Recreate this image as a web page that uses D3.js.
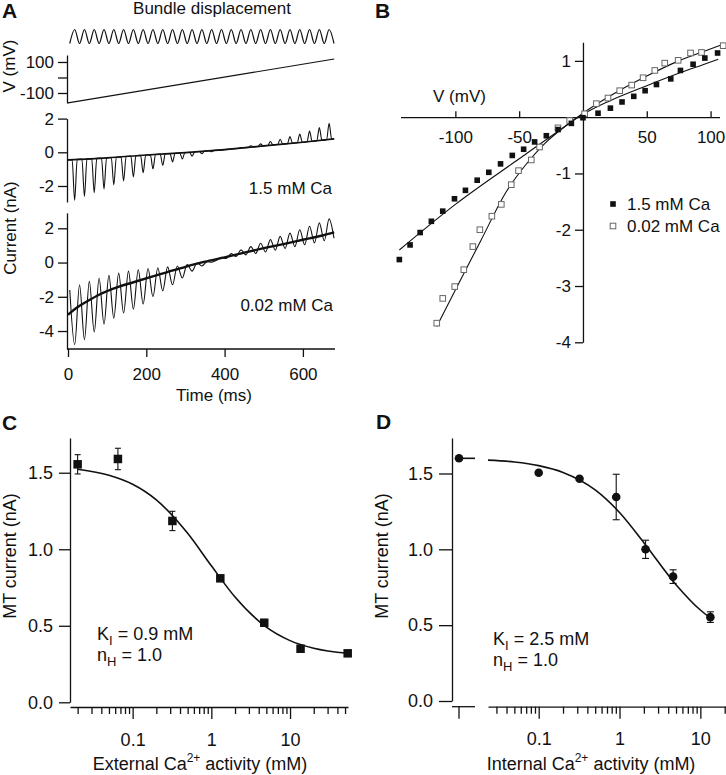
<!DOCTYPE html>
<html><head><meta charset="utf-8">
<script src="https://cdn.jsdelivr.net/npm/d3@7"></script>
<style>
body{margin:0;background:#fff;}
svg{display:block;font-family:"Liberation Sans",Arial,Helvetica,sans-serif;}
</style></head><body>
<svg id="chart" width="726" height="775"></svg>
<script>
// ================= DATA =================
// Panel A
const timeTicks = [0, 200, 400, 600];
const stimPeriodMs = 25;
const stimCycles = 27;
const firstTroughMs = 17;
const rampT = [0, 680];
const rampV = [-164, 119];
const highCaBaseT = [0, 100, 200, 300, 400, 500, 600, 680];
const highCaBaseI = [-0.45, -0.33, -0.16, -0.02, 0.16, 0.38, 0.6, 0.8];
// per-cycle deviation from baseline at each stimulus peak (1.5 mM Ca)
const highCaExtreme = [-2.42, -2.22, -2.03, -1.83, -1.63, -1.44, -1.24, -1.04, -0.85, -0.67, -0.5, -0.36, -0.24, -0.14, -0.07, -0.02, 0, 0.03, 0.08, 0.14, 0.22, 0.3, 0.4, 0.5, 0.62, 0.76, 0.95];
const lowCaSmoothT = [0, 25, 50, 82, 125, 167, 210, 252, 300, 350, 400, 450, 500, 550, 600, 650, 680];
const lowCaSmoothI = [-3.05, -2.6, -2.25, -1.85, -1.45, -1.15, -0.85, -0.57, -0.25, 0.05, 0.3, 0.58, 0.84, 1.08, 1.33, 1.58, 1.76];
// 0.02 mM Ca: current at each stimulus peak, and half a period earlier
const lowCaA = [-4.8, -4.5, -4.05, -3.6, -3.25, -2.95, -2.72, -2.42, -2.0, -1.65, -1.3, -0.9, -0.5, -0.2, 0.02, 0.3, 0.52, 0.74, 0.93, 1.13, 1.34, 1.53, 1.72, 1.92, 2.12, 2.32, 2.55];
const lowCaB = [-1.6, -1.3, -1.1, -0.92, -0.75, -0.62, -0.5, -0.42, -0.35, -0.3, -0.25, -0.2, -0.12, -0.03, 0.04, 0.14, 0.24, 0.36, 0.45, 0.53, 0.62, 0.72, 0.82, 0.93, 1.04, 1.15, 1.27, 1.42];

// Panel B
const ivHighV = [-143.9, -135.5, -127.6, -118.8, -109.9, -100.7, -92.1, -82.9, -73.8, -64.6, -55.4, -46.5, -37.9, -28.7, -19.5, -9.1, 0, 11.8, 21.5, 30.6, 39.8, 48.7, 57.6, 68.8, 76.4, 86.3, 95.5, 105.5];
const ivHighI = [-2.53, -2.27, -2.05, -1.85, -1.67, -1.45, -1.3, -1.12, -0.98, -0.83, -0.68, -0.57, -0.44, -0.33, -0.22, -0.11, -0.01, 0.07, 0.16, 0.27, 0.37, 0.47, 0.58, 0.68, 0.83, 0.94, 1.05, 1.14];
const ivLowV = [-114.6, -109.9, -100.5, -93.4, -86.3, -80.8, -71.4, -64, -56.2, -50.5, -40.5, -34, -19.6, -10.4, 1.3, 10.5, 19.6, 28.8, 38.2, 47.1, 56.3, 64.1, 74.6, 84.3, 92.9, 109.9];
const ivLowI = [-3.66, -3.22, -3.01, -2.71, -2.3, -2.0, -1.76, -1.55, -1.2, -0.95, -0.76, -0.53, -0.19, -0.06, 0.06, 0.24, 0.34, 0.47, 0.57, 0.7, 0.83, 0.96, 1.01, 1.14, 1.15, 1.27];
const fitHighV = [-143.9, -100, -50, -20, 0, 20, 50, 75, 100, 106];
const fitHighI = [-2.36, -1.55, -0.74, -0.26, 0.05, 0.28, 0.56, 0.78, 0.98, 1.03];
const fitLowV = [-114.6, -100, -80, -60, -45, -30, -15, 0, 15, 30, 50, 75, 95, 110.4];
const fitLowI = [-3.72, -3.07, -2.19, -1.32, -0.85, -0.47, -0.18, 0.07, 0.29, 0.49, 0.73, 1.0, 1.17, 1.3];
const vTicks = [-100, -50, 50, 100];
const iTicksB = [1, -1, -2, -3, -4];
const legendLabels = ["1.5 mM Ca", "0.02 mM Ca"];

// Panel C
const cConc = [0.02, 0.065, 0.32, 1.3, 4.7, 13.6, 54];
const cMean = [1.555, 1.59, 1.185, 0.81, 0.52, 0.35, 0.32];
const cErr = [0.063, 0.07, 0.063, 0.01, 0.02, 0.01, 0.01];
const cFitConc = [0.02, 0.05, 0.1, 0.2, 0.5, 1, 2, 5, 10, 20, 54];
const cFitI = [1.523, 1.484, 1.425, 1.323, 1.104, 0.892, 0.688, 0.491, 0.403, 0.353, 0.320];
const cMajor = [0.1, 1, 10];
const cMinor = [0.02,0.03,0.04,0.05,0.06,0.07,0.08,0.09,0.2,0.3,0.4,0.5,0.6,0.7,0.8,0.9,2,3,4,5,6,7,8,9,20,30,40,50];
const mtTicks = [0, 0.5, 1.0, 1.5];

// Panel D
const dZeroI = 1.6;
const dConc = [0.1, 0.32, 0.91, 2.1, 4.6, 13.3];
const dMean = [1.505, 1.465, 1.345, 1.0, 0.82, 0.553];
const dErr = [0, 0, 0.15, 0.06, 0.045, 0.035];
const dFitConc = [0.0236, 0.05, 0.1, 0.2, 0.5, 1, 2, 5, 10, 13.3];
const dFitI = [1.588, 1.576, 1.552, 1.507, 1.392, 1.243, 1.044, 0.767, 0.600, 0.548];
const dMajor = [0.1, 1, 10];
const dMinor = [0.03,0.04,0.05,0.06,0.07,0.08,0.09,0.2,0.3,0.4,0.5,0.6,0.7,0.8,0.9,2,3,4,5,6,7,8,9,20];

// ================= DRAWING =================
const svg = d3.select("#chart");
const INK = "#111";
const plain = d => String(d);   // hyphen-minus, no trailing zeros
function styleAxis(g, fs) {
  g.selectAll("path.domain").attr("stroke", INK).attr("stroke-width", 1.3);
  g.selectAll(".tick line").attr("stroke", INK).attr("stroke-width", 1.3);
  g.selectAll(".tick text").attr("font-size", fs).attr("fill", INK)
    .attr("font-family", '"Liberation Sans", Arial, sans-serif');
}
function letter(x, y, t) {
  svg.append("text").attr("x", x).attr("y", y).attr("font-size", 21)
    .attr("font-weight", "bold").attr("fill", INK).text(t);
}
function vtitle(cx, cy, fs, t) {
  svg.append("text").attr("transform", `translate(${cx},${cy}) rotate(-90)`)
    .attr("text-anchor", "middle").attr("font-size", fs).attr("fill", INK).text(t);
}

// ---------- Panel A ----------
letter(2, 18, "A");
svg.append("text").attr("x", 212).attr("y", 14).attr("text-anchor", "middle")
  .attr("font-size", 17).attr("fill", INK).text("Bundle displacement");

const xA = d3.scaleLinear([0, 682], [68, 335]);
const yV = d3.scaleLinear([-164.5, 145], [103, 55]);
const yI1 = d3.scaleLinear([-2.95, 2.0], [202, 118.6]);
const yI2 = d3.scaleLinear([-5.05, 2.9], [349, 212.9]);
const stimY = d3.scaleLinear([-1, 1], [43.5, 29.5]);

// stimulus sine
const stimPts = [];
for (let k = 0; k < stimCycles; k++) {
  const tk = firstTroughMs + k * stimPeriodMs;
  stimPts.push([tk - stimPeriodMs / 2, -1]);
  stimPts.push([tk, 1]);
}
stimPts.push([firstTroughMs + stimCycles * stimPeriodMs - stimPeriodMs / 2, -1]);
svg.append("path").datum(stimPts)
  .attr("d", d3.line().x(d => xA(d[0])).y(d => stimY(d[1])).curve(d3.curveCatmullRom))
  .attr("fill", "none").attr("stroke", INK).attr("stroke-width", 1.2);

// voltage ramp
svg.append("path").datum(d3.zip(rampT, rampV))
  .attr("d", d3.line().x(d => xA(d[0])).y(d => yV(d[1])))
  .attr("fill", "none").attr("stroke", INK).attr("stroke-width", 1.2);

const gV = svg.append("g").attr("transform", "translate(67,0)")
  .call(d3.axisLeft(yV).tickValues([-100, 0, 100]).tickFormat(d => d === 0 ? "" : plain(d))
    .tickSize(9).tickSizeOuter(0).tickPadding(4));
styleAxis(gV, 17);
vtitle(15, 66, 17, "V (mV)");

// 1.5 mM trace
const baseHigh = d3.scaleLinear(highCaBaseT, highCaBaseI);
const highPts = [[0, baseHigh(0)]];
highCaExtreme.forEach((dv, k) => {
  const tk = firstTroughMs + k * stimPeriodMs;
  const w = stimPeriodMs * 0.26;
  highPts.push([tk - w, baseHigh(tk - w)]);
  highPts.push([tk, baseHigh(tk) + dv]);
  highPts.push([tk + w, baseHigh(tk + w)]);
});
highPts.push([680, baseHigh(680)]);
svg.append("path").datum(highCaBaseT.map((t, i) => [t, highCaBaseI[i]]))
  .attr("d", d3.line().x(d => xA(d[0])).y(d => yI1(d[1])).curve(d3.curveMonotoneX))
  .attr("fill", "none").attr("stroke", INK).attr("stroke-width", 1.6);
svg.append("path").datum(highPts)
  .attr("d", d3.line().x(d => xA(d[0])).y(d => yI1(d[1])).curve(d3.curveMonotoneX))
  .attr("fill", "none").attr("stroke", INK).attr("stroke-width", 1.1);
const gI1 = svg.append("g").attr("transform", "translate(67,0)")
  .call(d3.axisLeft(yI1).tickValues([-2, 0, 2]).tickFormat(plain).tickSize(9).tickSizeOuter(0).tickPadding(4));
styleAxis(gI1, 17);
svg.append("text").attr("x", 332).attr("y", 194).attr("text-anchor", "end")
  .attr("font-size", 17).attr("fill", INK).text("1.5 mM Ca");

// 0.02 mM trace
const lowPts = [];
lowCaB.forEach((v, k) => {
  const tB = firstTroughMs + k * stimPeriodMs - stimPeriodMs / 2;
  lowPts.push([tB, v]);
  if (k < lowCaA.length) lowPts.push([firstTroughMs + k * stimPeriodMs, lowCaA[k]]);
});
svg.append("path").datum(lowPts)
  .attr("d", d3.line().x(d => xA(d[0])).y(d => yI2(d[1])).curve(d3.curveCatmullRom))
  .attr("fill", "none").attr("stroke", INK).attr("stroke-width", 1.1);
svg.append("path").datum(d3.zip(lowCaSmoothT, lowCaSmoothI))
  .attr("d", d3.line().x(d => xA(d[0])).y(d => yI2(d[1])).curve(d3.curveMonotoneX))
  .attr("fill", "none").attr("stroke", INK).attr("stroke-width", 2.4);
const gI2 = svg.append("g").attr("transform", "translate(67,0)")
  .call(d3.axisLeft(yI2).tickValues([-4, -2, 0, 2]).tickFormat(plain).tickSize(9).tickSizeOuter(0).tickPadding(4));
styleAxis(gI2, 17);
svg.append("text").attr("x", 333).attr("y", 311).attr("text-anchor", "end")
  .attr("font-size", 17).attr("fill", INK).text("0.02 mM Ca");
vtitle(16, 228, 17, "Current (nA)");

const gT = svg.append("g").attr("transform", "translate(0,349)")
  .call(d3.axisBottom(xA).tickValues(timeTicks).tickFormat(plain).tickSize(8).tickSizeOuter(0).tickPadding(11));
styleAxis(gT, 17);
gT.select("path.domain").attr("d", `M67,0H${xA(682)}`);
svg.append("text").attr("x", 214).attr("y", 401).attr("text-anchor", "middle")
  .attr("font-size", 17).attr("fill", INK).text("Time (ms)");

// ---------- Panel B ----------
letter(375, 18, "B");
const xB = d3.scaleLinear([-143, 107], [400.5, 719.5]);
const yB = d3.scaleLinear([-4, 1.33], [342.3, 42.3]);
const gBx = svg.append("g").attr("transform", `translate(0,${yB(0)})`)
  .call(d3.axisBottom(xB).tickValues(vTicks).tickFormat(plain).tickSize(-6).tickSizeOuter(0).tickPadding(14));
styleAxis(gBx, 17);
const gBy = svg.append("g").attr("transform", `translate(${xB(0)},0)`)
  .call(d3.axisLeft(yB).tickValues(iTicksB).tickFormat(plain).tickSize(8).tickSizeOuter(0).tickPadding(4));
styleAxis(gBy, 17);
svg.append("text").attr("x", 433).attr("y", 102).attr("font-size", 17).attr("fill", INK).text("V (mV)");

const lineB = d3.line().x(d => xB(d[0])).y(d => yB(d[1])).curve(d3.curveMonotoneX);
svg.append("path").datum(d3.zip(fitHighV, fitHighI)).attr("d", lineB)
  .attr("fill", "none").attr("stroke", INK).attr("stroke-width", 1.1);
svg.append("path").datum(d3.zip(fitLowV, fitLowI)).attr("d", lineB)
  .attr("fill", "none").attr("stroke", INK).attr("stroke-width", 1.1);
const sqB = 5.6;
svg.append("g").selectAll("rect").data(d3.zip(ivLowV, ivLowI)).join("rect")
  .attr("x", d => xB(d[0]) - sqB / 2).attr("y", d => yB(d[1]) - sqB / 2)
  .attr("width", sqB).attr("height", sqB).attr("fill", "#fff").attr("stroke", "#666").attr("stroke-width", 1);
svg.append("g").selectAll("rect").data(d3.zip(ivHighV, ivHighI)).join("rect")
  .attr("x", d => xB(d[0]) - sqB / 2).attr("y", d => yB(d[1]) - sqB / 2)
  .attr("width", sqB).attr("height", sqB).attr("fill", INK);
// legend
const lg = svg.append("g");
lg.selectAll("rect").data(legendLabels).join("rect")
  .attr("x", 613 - sqB / 2).attr("y", (d, i) => 204 + i * 22 - sqB / 2)
  .attr("width", sqB).attr("height", sqB)
  .attr("fill", (d, i) => i === 0 ? INK : "#fff").attr("stroke", (d, i) => i === 0 ? "none" : "#666");
lg.selectAll("text").data(legendLabels).join("text")
  .attr("x", 627).attr("y", (d, i) => 210 + i * 22).attr("font-size", 17).attr("fill", INK).text(d => d);

// ---------- Panel C ----------
letter(2, 430, "C");
const xC = d3.scaleLog([0.016, 54.5], [70, 348]);
const yC = d3.scaleLinear([0, 1.727], [702.3, 438]);
const gCy = svg.append("g").attr("transform", "translate(70,0)")
  .call(d3.axisLeft(yC).tickValues(mtTicks).tickFormat(d3.format(".1f")).tickSize(11).tickSizeOuter(0).tickPadding(6));
styleAxis(gCy, 18);
const gCxm = svg.append("g").attr("transform", "translate(0,707)")
  .call(d3.axisBottom(xC).tickValues(cMinor).tickFormat("").tickSize(7).tickSizeOuter(0));
styleAxis(gCxm, 18);
const gCxM = svg.append("g").attr("transform", "translate(0,707)")
  .call(d3.axisBottom(xC).tickValues(cMajor).tickFormat(plain).tickSize(12).tickSizeOuter(0).tickPadding(14));
styleAxis(gCxM, 18);
gCxM.select("path.domain").remove();
vtitle(16, 556, 18, "MT current (nA)");
const tC = svg.append("text").attr("x", 200).attr("y", 770).attr("text-anchor", "middle")
  .attr("font-size", 18).attr("fill", INK);
tC.append("tspan").text("External Ca");
tC.append("tspan").attr("font-size", 12).attr("dy", -8).text("2+");
tC.append("tspan").attr("dy", 8).text(" activity (mM)");

svg.append("path").datum(d3.zip(cFitConc, cFitI))
  .attr("d", d3.line().x(d => xC(d[0])).y(d => yC(d[1])).curve(d3.curveMonotoneX))
  .attr("fill", "none").attr("stroke", INK).attr("stroke-width", 1.6);
const cData = cConc.map((c, i) => ({ c, m: cMean[i], e: cErr[i] }));
const gCe = svg.append("g").attr("stroke", INK).attr("stroke-width", 1.1);
cData.filter(d => d.e > 0.015).forEach(d => {
  const x = xC(d.c);
  gCe.append("line").attr("x1", x).attr("x2", x).attr("y1", yC(d.m - d.e)).attr("y2", yC(d.m + d.e));
  gCe.append("line").attr("x1", x - 3).attr("x2", x + 3).attr("y1", yC(d.m - d.e)).attr("y2", yC(d.m - d.e));
  gCe.append("line").attr("x1", x - 3).attr("x2", x + 3).attr("y1", yC(d.m + d.e)).attr("y2", yC(d.m + d.e));
});
const sqC = 8.5;
svg.append("g").selectAll("rect").data(cData).join("rect")
  .attr("x", d => xC(d.c) - sqC / 2).attr("y", d => yC(d.m) - sqC / 2)
  .attr("width", sqC).attr("height", sqC).attr("fill", INK);
const kC = svg.append("text").attr("x", 97).attr("y", 640).attr("font-size", 18).attr("fill", INK);
kC.append("tspan").text("K");
kC.append("tspan").attr("font-size", 13).attr("dy", 5).text("I");
kC.append("tspan").attr("dy", -5).text(" = 0.9 mM");
const nC = svg.append("text").attr("x", 97).attr("y", 661).attr("font-size", 18).attr("fill", INK);
nC.append("tspan").text("n");
nC.append("tspan").attr("font-size", 13).attr("dy", 5).text("H");
nC.append("tspan").attr("dy", -5).text(" = 1.0");

// ---------- Panel D ----------
letter(376, 429, "D");
const xD = d3.scaleLog([0.0236, 21], [488, 726.4]);
const xD0 = 459;  // position of the zero-calcium point on the broken axis
const yD = d3.scaleLinear([0, 1.734], [701, 438]);
const gDy = svg.append("g").attr("transform", "translate(452,0)")
  .call(d3.axisLeft(yD).tickValues(mtTicks).tickFormat(d3.format(".1f")).tickSize(13).tickSizeOuter(0).tickPadding(6));
styleAxis(gDy, 18);
const gDseg = svg.append("g").attr("stroke", INK).attr("stroke-width", 1.3);
gDseg.append("line").attr("x1", 452).attr("x2", 475).attr("y1", 706.7).attr("y2", 706.7);
gDseg.append("line").attr("x1", xD0).attr("x2", xD0).attr("y1", 706.7).attr("y2", 718.7);
const gDxm = svg.append("g").attr("transform", "translate(0,706.7)")
  .call(d3.axisBottom(xD).tickValues(dMinor).tickFormat("").tickSize(7).tickSizeOuter(0));
styleAxis(gDxm, 18);
const gDxM = svg.append("g").attr("transform", "translate(0,706.7)")
  .call(d3.axisBottom(xD).tickValues(dMajor).tickFormat(plain).tickSize(12).tickSizeOuter(0).tickPadding(14));
styleAxis(gDxM, 18);
gDxM.select("path.domain").remove();
vtitle(388, 556, 18, "MT current (nA)");
const tD = svg.append("text").attr("x", 591).attr("y", 770).attr("text-anchor", "middle")
  .attr("font-size", 18).attr("fill", INK);
tD.append("tspan").text("Internal Ca");
tD.append("tspan").attr("font-size", 12).attr("dy", -8).text("2+");
tD.append("tspan").attr("dy", 8).text(" activity (mM)");

svg.append("line").attr("x1", xD0).attr("x2", 475).attr("y1", yD(dZeroI)).attr("y2", yD(dZeroI))
  .attr("stroke", INK).attr("stroke-width", 1.6);
svg.append("path").datum(d3.zip(dFitConc, dFitI))
  .attr("d", d3.line().x(d => xD(d[0])).y(d => yD(d[1])).curve(d3.curveMonotoneX))
  .attr("fill", "none").attr("stroke", INK).attr("stroke-width", 1.6);
const dData = dConc.map((c, i) => ({ c, m: dMean[i], e: dErr[i] }));
const gDe = svg.append("g").attr("stroke", INK).attr("stroke-width", 1.1);
dData.filter(d => d.e > 0).forEach(d => {
  const x = xD(d.c);
  gDe.append("line").attr("x1", x).attr("x2", x).attr("y1", yD(d.m - d.e)).attr("y2", yD(d.m + d.e));
  gDe.append("line").attr("x1", x - 3.5).attr("x2", x + 3.5).attr("y1", yD(d.m - d.e)).attr("y2", yD(d.m - d.e));
  gDe.append("line").attr("x1", x - 3.5).attr("x2", x + 3.5).attr("y1", yD(d.m + d.e)).attr("y2", yD(d.m + d.e));
});
svg.append("circle").attr("cx", xD0).attr("cy", yD(dZeroI)).attr("r", 4.3).attr("fill", INK);
svg.append("g").selectAll("circle").data(dData).join("circle")
  .attr("cx", d => xD(d.c)).attr("cy", d => yD(d.m)).attr("r", 4.3).attr("fill", INK);
const kD = svg.append("text").attr("x", 493).attr("y", 645).attr("font-size", 18).attr("fill", INK);
kD.append("tspan").text("K");
kD.append("tspan").attr("font-size", 13).attr("dy", 5).text("I");
kD.append("tspan").attr("dy", -5).text("  = 2.5 mM");
const nD = svg.append("text").attr("x", 493).attr("y", 666).attr("font-size", 18).attr("fill", INK);
nD.append("tspan").text("n");
nD.append("tspan").attr("font-size", 13).attr("dy", 5).text("H");
nD.append("tspan").attr("dy", -5).text("  = 1.0");
</script>
</body></html>
